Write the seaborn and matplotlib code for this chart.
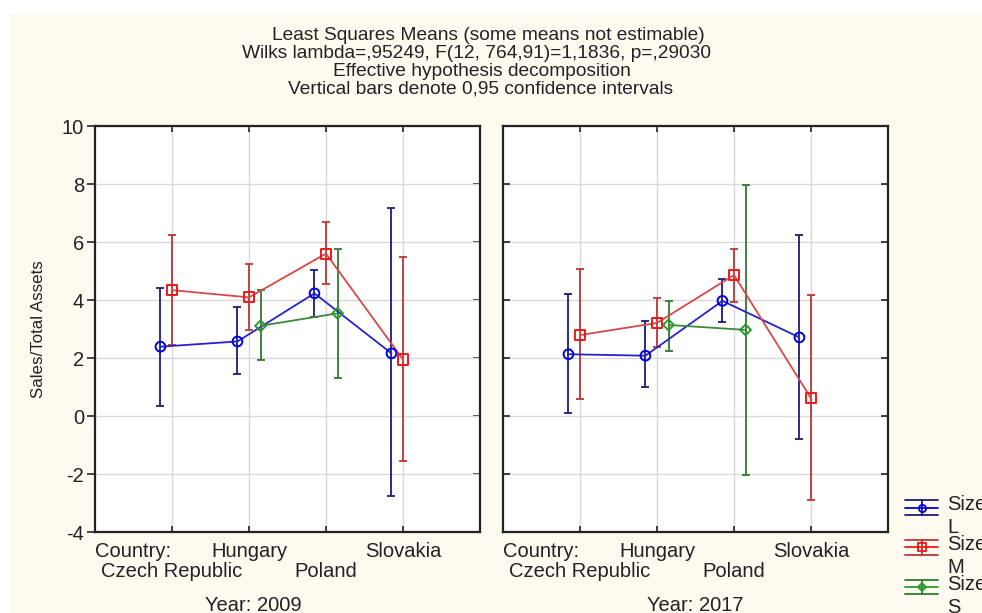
import numpy as np
import pandas as pd
import matplotlib
matplotlib.use("Agg")
import matplotlib.pyplot as plt
import seaborn as sns
from matplotlib.lines import Line2D
from matplotlib.patches import Rectangle
from matplotlib.legend_handler import HandlerBase

# ---------------- data ----------------
countries = ["Czech Republic", "Hungary", "Poland", "Slovakia"]
years = ["2009", "2017"]
sizes = ["L", "M", "S"]

# 2009
mean_2009_L = [2.39, 2.57, 4.23, 2.16]
lo_2009_L = [0.36, 1.44, 3.42, -2.75]
hi_2009_L = [4.43, 3.75, 5.03, 7.18]
mean_2009_M = [4.34, 4.09, 5.60, 1.95]
lo_2009_M = [2.45, 2.97, 4.56, -1.55]
hi_2009_M = [6.25, 5.23, 6.70, 5.50]
mean_2009_S = [np.nan, 3.11, 3.54, np.nan]
lo_2009_S = [np.nan, 1.93, 1.30, np.nan]
hi_2009_S = [np.nan, 4.33, 5.77, np.nan]

# 2017
mean_2017_L = [2.13, 2.08, 3.97, 2.71]
lo_2017_L = [0.09, 0.99, 3.23, -0.79]
hi_2017_L = [4.22, 3.28, 4.74, 6.25]
mean_2017_M = [2.79, 3.21, 4.86, 0.61]
lo_2017_M = [0.59, 2.39, 3.94, -2.90]
hi_2017_M = [5.06, 4.07, 5.77, 4.16]
mean_2017_S = [np.nan, 3.14, 2.97, np.nan]
lo_2017_S = [np.nan, 2.25, -2.03, np.nan]
hi_2017_S = [np.nan, 3.98, 7.96, np.nan]

series = {
    ("2009", "L"): (mean_2009_L, lo_2009_L, hi_2009_L),
    ("2009", "M"): (mean_2009_M, lo_2009_M, hi_2009_M),
    ("2009", "S"): (mean_2009_S, lo_2009_S, hi_2009_S),
    ("2017", "L"): (mean_2017_L, lo_2017_L, hi_2017_L),
    ("2017", "M"): (mean_2017_M, lo_2017_M, hi_2017_M),
    ("2017", "S"): (mean_2017_S, lo_2017_S, hi_2017_S),
}

rows = []
for (yr, sz), (m, lo, hi) in series.items():
    for i, c in enumerate(countries):
        rows.append(dict(year=yr, size=sz, country=c, idx=i,
                         mean=m[i], lo=lo[i], hi=hi[i]))
df = pd.DataFrame(rows)

# ---------------- styles ----------------
offsets = {"L": -0.15, "M": 0.0, "S": 0.15}
line_col = {"L": "#2424c8", "M": "#d84848", "S": "#3a8a3a"}
mark_col = {"L": "#0000e0", "M": "#f01818", "S": "#2a9a2a"}
err_col = {"L": "#1c1c78", "M": "#b83838", "S": "#2f7a2f"}
markers = {"L": "o", "M": "s", "S": "D"}
msizes = {"L": 7, "M": 7.3, "S": 5.5}

sns.set_style("white")
plt.rcParams["font.family"] = ["Liberation Sans", "DejaVu Sans"]
plt.rcParams["axes.unicode_minus"] = False

fig = plt.figure(figsize=(9.82, 6.13), dpi=100)
fig.patch.set_facecolor("white")
fig.patches.append(Rectangle((9 / 982, 0), 1, 1 - 14 / 613, transform=fig.transFigure,
                             facecolor="#fffaef", edgecolor="none", zorder=-10))

W, H = 982, 613
def ax_rect(x0, x1, ytop, ybot):
    return [x0 / W, 1 - ybot / H, (x1 - x0) / W, (ybot - ytop) / H]

ax1 = fig.add_axes(ax_rect(95, 480, 126, 532))
ax2 = fig.add_axes(ax_rect(503, 888, 126, 532))

fs = 14.5
txt = "#222222"
for ax, yr, xl in [(ax1, "2009", 0.41), (ax2, "2017", 0.50)]:
    ax.set_facecolor("white")
    sub = df[df["year"] == yr].copy()
    sub["x"] = sub["idx"] + sub["size"].map(offsets)
    for sz in sizes:
        s = sub[sub["size"] == sz]
        ax.errorbar(s["x"], s["mean"], yerr=[s["mean"] - s["lo"], s["hi"] - s["mean"]],
                    fmt="none", ecolor=err_col[sz], elinewidth=1.3, capsize=3.0,
                    capthick=1.3, zorder=3)
        ax.plot(s["x"], s["mean"], color=line_col[sz], lw=1.3, zorder=4)
        sns.scatterplot(data=s, x="x", y="mean", ax=ax, marker=markers[sz],
                        s=msizes[sz] ** 2, facecolor="none", edgecolor=mark_col[sz],
                        linewidth=1.4, zorder=5, legend=False)
    ax.set_xlim(-1, 4)
    ax.set_ylim(-4, 10)
    ax.set_yticks(np.arange(-4, 11, 2))
    # staggered category labels: rows 1 (major) and 2 (minor)
    ax.set_xticks([1, 3])
    ax.set_xticklabels([countries[1], countries[3]], fontsize=fs, color=txt)
    ax.set_xticks([0, 2], minor=True)
    ax.set_xticklabels([countries[0], countries[2]], minor=True, fontsize=fs, color=txt)
    ax.grid(True, which="both", axis="x", color="#d8d8d8", lw=1.0)
    ax.grid(True, which="major", axis="y", color="#d8d8d8", lw=1.0)
    ax.set_axisbelow(True)
    for sp in ax.spines.values():
        sp.set_visible(True)
        sp.set_color(txt)
        sp.set_linewidth(1.6)
    ax.tick_params(axis="x", which="both", direction="in", length=4, width=1.2,
                   top=True, bottom=True, colors=txt)
    ax.tick_params(axis="x", which="major", pad=7.2)
    ax.tick_params(axis="x", which="minor", pad=21.8)
    ax.set_ylabel("")
    ax.set_xlabel("Year: " + yr, fontsize=fs, color=txt)
    ax.xaxis.set_label_coords(xl, -0.157)
    ax.annotate("Country:", xy=(0, 0), xycoords="axes fraction", xytext=(0, -7.2),
                textcoords="offset points", ha="left", va="top", fontsize=fs,
                color=txt)

ax1.tick_params(axis="y", direction="out", length=6, width=1.2, left=True,
                right=False, labelsize=fs, labelcolor=txt, pad=2)
sec = ax1.secondary_yaxis("right")
sec.set_yticks(np.arange(-4, 11, 2))
sec.tick_params(axis="y", direction="in", length=5, width=1.2, labelright=False,
                colors=txt)
sec.spines["right"].set_visible(False)
ax2.tick_params(axis="y", direction="in", length=5, width=1.2, left=True,
                right=True, labelleft=False, colors=txt)
ax1.set_ylabel("Sales/Total Assets", fontsize=12.2, color=txt, labelpad=11)

# title lines (each line centred where it sits in the original)
titles = ["Least Squares Means (some means not estimable)",
          "Wilks lambda=,95249, F(12, 764,91)=1,1836, p=,29030",
          "Effective hypothesis decomposition",
          "Vertical bars denote 0,95 confidence intervals"]
title_cx = [488, 477, 482, 481]
for k, t in enumerate(titles):
    fig.text(title_cx[k] / W, 1 - (35 + 18 * k) / H, t, ha="center", va="center",
             fontsize=13.8, color=txt)

# legend
class HandlerSym(HandlerBase):
    def __init__(self, col, ecol, marker, ms, shift):
        super().__init__()
        self.col, self.ecol, self.marker, self.ms, self.shift = col, ecol, marker, ms, shift

    def create_artists(self, legend, orig_handle, xdescent, ydescent, width, height,
                       fontsize, trans):
        yc = height / 2 - ydescent + self.shift
        x0, x1 = -xdescent, -xdescent + width
        xm = (x0 + x1) / 2
        d = 5.3
        arts = [
            Line2D([x0, x1], [yc + d, yc + d], color=self.ecol, lw=1.3),
            Line2D([x0, x1], [yc - d, yc - d], color=self.ecol, lw=1.3),
            Line2D([xm, xm], [yc - d, yc + d], color=self.ecol, lw=1.3),
            Line2D([x0, x1], [yc, yc], color=self.col, lw=1.3),
            Line2D([xm], [yc], marker=self.marker, ms=self.ms, mfc="none",
                   mec=self.col, mew=1.3, ls="none"),
        ]
        for a in arts:
            a.set_transform(trans)
        return arts

handles = [Line2D([], []) for _ in sizes]
labels = ["Size\n" + s for s in sizes]
hmap = {h: HandlerSym(mark_col[s], err_col[s], markers[s], msizes[s] * 0.75, 6.5)
        for h, s in zip(handles, sizes)}
fig.legend(handles, labels, handler_map=hmap, loc="upper left",
           bbox_to_anchor=(905 / W, 1 - 495 / H), frameon=False, fontsize=fs,
           borderpad=0, borderaxespad=0, handlelength=1.64, handletextpad=0.45,
           labelspacing=-0.12, labelcolor=txt)
for t in fig.legends[0].get_texts():
    t.set_linespacing(1.28)

fig.savefig("out.png", dpi=100, facecolor=fig.get_facecolor())
